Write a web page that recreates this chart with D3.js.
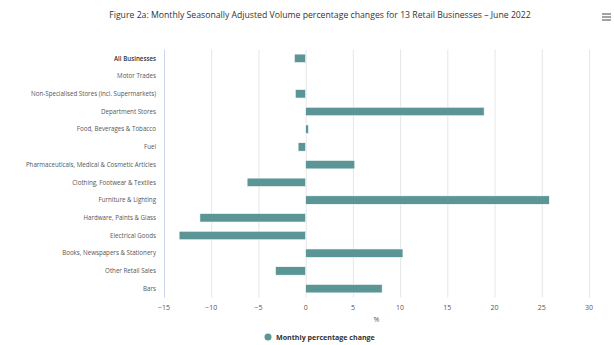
<!DOCTYPE html>
<html lang="en">
    <head>
        <meta charset="utf-8">
        <title>Retail Businesses - June 2022</title>
        <script type="text/javascript" src="https://d3js.org/d3.v7.min.js"></script>
        <style>
            body { margin: 0; background: #FFFFFF; }
            text { font-family: "Open Sans", "DejaVu Sans", sans-serif; }
        </style>
    </head>
    <body>
        <script>
        // Categories, top to bottom
        const businesses = [
            "All Businesses",
            "Motor Trades",
            "Non-Specialised Stores (incl. Supermarkets)",
            "Department Stores",
            "Food, Beverages & Tobacco",
            "Fuel",
            "Pharmaceuticals, Medical & Cosmetic Articles",
            "Clothing, Footwear & Textiles",
            "Furniture & Lighting",
            "Hardware, Paints & Glass",
            "Electrical Goods",
            "Books, Newspapers & Stationery",
            "Other Retail Sales",
            "Bars"
        ];
        // Monthly percentage change (%)
        const monthlyChange = [-1.2, 0, -1.1, 18.9, 0.3, -0.8, 5.2, -6.2, 25.8, -11.2, -13.4, 10.3, -3.2, 8.1];
        const xTicks = [-15, -10, -5, 0, 5, 10, 15, 20, 25, 30];

        const W = 614, H = 345;
        const margin = {top: 49.5, right: 25, bottom: 47.5, left: 164};
        const width = W - margin.left - margin.right,
              height = H - margin.top - margin.bottom;
        const barColor = "#5b9595";

        const svg = d3.select("body")
            .append("svg")
                .attr("width", W)
                .attr("height", H)
                .style("background-color", "#FFFFFF");

        const g = svg.append("g")
            .attr("transform", `translate(${margin.left}, ${margin.top})`);

        const x = d3.scaleLinear()
            .domain([-15, 30])
            .range([0, width]);

        const y = d3.scaleBand()
            .domain(businesses)
            .range([0, height]);

        // vertical gridlines
        g.selectAll(".grid")
            .data(xTicks)
            .join("line")
            .attr("x1", d => x(d) + 0.5)
            .attr("x2", d => x(d) + 0.5)
            .attr("y1", 0)
            .attr("y2", height)
            .attr("stroke", "#e6e6e6")
            .attr("stroke-width", 1);

        // category axis line
        g.append("line")
            .attr("x1", 0.5).attr("x2", 0.5)
            .attr("y1", 0).attr("y2", height)
            .attr("stroke", "#ccd6eb")
            .attr("stroke-width", 1);

        // bars
        const data = businesses.map((b, i) => ({name: b, value: monthlyChange[i]}));
        const barH = 8.5;
        g.selectAll(".bar")
            .data(data.filter(d => d.value !== 0))
            .join("rect")
            .attr("x", d => x(Math.min(0, d.value)))
            .attr("y", d => y(d.name) + y.bandwidth() / 2 - barH / 2)
            .attr("width", d => Math.abs(x(d.value) - x(0)))
            .attr("height", barH)
            .attr("fill", barColor)
            .attr("stroke", "#ffffff")
            .attr("stroke-width", 0.6);

        // category labels
        g.selectAll(".cat")
            .data(businesses)
            .join("text")
            .attr("x", -8)
            .attr("y", d => y(d) + y.bandwidth() / 2)
            .attr("dy", "0.35em")
            .attr("text-anchor", "end")
            .attr("font-size", "6.2px")
            .attr("fill", d => d === "All Businesses" ? "#333333" : "#555555")
            .attr("font-weight", d => d === "All Businesses" ? 600 : 400)
            .text(d => d);

        // x tick labels
        g.selectAll(".tick-label")
            .data(xTicks)
            .join("text")
            .attr("x", d => x(d))
            .attr("y", height + 12)
            .attr("text-anchor", "middle")
            .attr("font-size", "7px")
            .attr("fill", "#555555")
            .text(d => d < 0 ? "\u2212" + Math.abs(d) : d);

        // x axis title
        g.append("text")
            .attr("x", width / 2)
            .attr("y", height + 24)
            .attr("text-anchor", "middle")
            .attr("font-size", "7px")
            .attr("fill", "#555555")
            .text("%");

        // Title
        svg.append("text")
            .attr("x", 320)
            .attr("y", 18)
            .attr("text-anchor", "middle")
            .attr("font-size", "8.7px")
            .attr("fill", "#333333")
            .text("Figure 2a: Monthly Seasonally Adjusted Volume percentage changes for 13 Retail Businesses \u2013 June 2022");

        // menu icon
        [0, 3, 6].forEach(dy => {
            svg.append("line")
                .attr("x1", 602).attr("x2", 611)
                .attr("y1", 14 + dy).attr("y2", 14 + dy)
                .attr("stroke", "#666666")
                .attr("stroke-width", 1.2);
        });

        // Legend
        const legend = svg.append("g")
            .attr("transform", "translate(268, 337)");
        legend.append("circle")
            .attr("r", 3.5)
            .attr("fill", barColor);
        legend.append("text")
            .attr("x", 8)
            .attr("dy", "0.35em")
            .attr("font-size", "7.1px")
            .attr("font-weight", 700)
            .attr("fill", "#333333")
            .text("Monthly percentage change");
        </script>
    </body>
</html>
